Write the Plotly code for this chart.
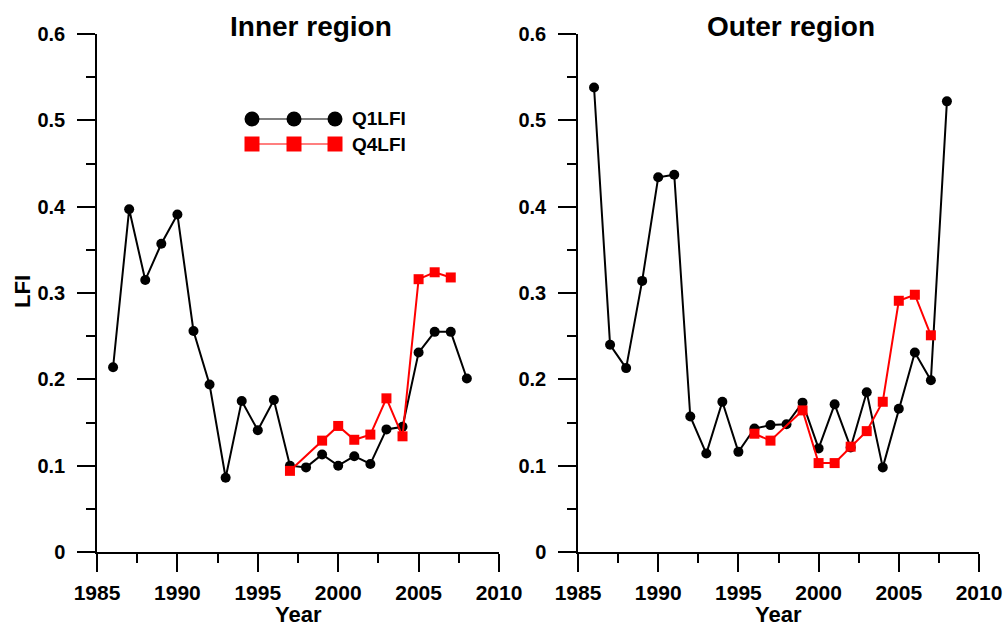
import plotly.graph_objects as go

# ---- data ----
years = list(range(1986, 2009))
inner_q1 = [0.214, 0.397, 0.315, 0.357, 0.391, 0.256, 0.194, 0.086, 0.175, 0.141, 0.176,
            0.100, 0.098, 0.113, 0.100, 0.111, 0.102, 0.142, 0.145, 0.231, 0.255, 0.255, 0.201]
inner_q4_years = [1997, 1999, 2000, 2001, 2002, 2003, 2004, 2005, 2006, 2007]
inner_q4 = [0.094, 0.129, 0.146, 0.130, 0.136, 0.178, 0.134, 0.316, 0.324, 0.318]

outer_q1 = [0.538, 0.240, 0.213, 0.314, 0.434, 0.437, 0.157, 0.114, 0.174, 0.116, 0.143,
            0.147, 0.148, 0.173, 0.120, 0.171, 0.121, 0.185, 0.098, 0.166, 0.231, 0.199, 0.522]
outer_q4_years = [1996, 1997, 1999, 2000, 2001, 2002, 2003, 2004, 2005, 2006, 2007]
outer_q4 = [0.137, 0.129, 0.164, 0.103, 0.103, 0.122, 0.140, 0.174, 0.291, 0.298, 0.251]

x_ticks = [1985, 1990, 1995, 2000, 2005, 2010]
y_ticks = [0, 0.1, 0.2, 0.3, 0.4, 0.5, 0.6]
y_ticklabels = ["0", "0.1", "0.2", "0.3", "0.4", "0.5", "0.6"]
panel_titles = ["Inner region", "Outer region"]
series_names = ["Q1LFI", "Q4LFI"]

W, H = 1005, 626
FONT = "Liberation Sans, Arial, sans-serif"

fig = go.Figure()

def add_series(x, y, axis, color, symbol):
    fig.add_trace(go.Scatter(
        x=x, y=y, mode="lines+markers", xaxis=axis[0], yaxis=axis[1],
        line=dict(color=color, width=2),
        marker=dict(color=color, size=10, symbol=symbol),
        showlegend=False, cliponaxis=False))

add_series(years, inner_q1, ("x", "y"), "black", "circle")
add_series(inner_q4_years, inner_q4, ("x", "y"), "red", "square")
add_series(years, outer_q1, ("x2", "y2"), "black", "circle")
add_series(outer_q4_years, outer_q4, ("x2", "y2"), "red", "square")

def px2x(p):
    return p / W

def px2y(p):
    return 1 - p / H

ydom = [px2y(552), px2y(34)]
xdoms = [[px2x(97), px2x(499)], [px2x(578), px2x(979)]]

xtickfont = dict(family=FONT, size=21, color="black", weight="bold")
ytickfont = dict(family=FONT, size=20, color="black", weight="bold")

def xaxis_cfg(dom):
    return dict(domain=dom, range=[1985, 2010], tickvals=x_ticks,
                showline=True, linecolor="black", linewidth=1.5,
                ticks="outside", ticklen=18, tickwidth=1.5, tickcolor="black",
                minor=dict(dtick=2.5, tick0=1985, ticks="outside", ticklen=9,
                           tickwidth=1.5, tickcolor="black"),
                showgrid=False, zeroline=False, tickfont=xtickfont,
                ticklabelstandoff=3, automargin=False)

def yaxis_cfg(anchor):
    return dict(domain=ydom, range=[0, 0.6], tickvals=y_ticks, ticktext=y_ticklabels,
                anchor=anchor,
                showline=True, linecolor="black", linewidth=1.5,
                ticks="outside", ticklen=18, tickwidth=1.5, tickcolor="black",
                minor=dict(dtick=0.05, tick0=0, ticks="outside", ticklen=9,
                           tickwidth=1.5, tickcolor="black"),
                showgrid=False, zeroline=False, tickfont=ytickfont,
                ticklabelstandoff=8, automargin=False)

fig.update_layout(
    width=W, height=H, margin=dict(l=0, r=0, t=0, b=0, autoexpand=False),
    paper_bgcolor="white", plot_bgcolor="white",
    xaxis=dict(xaxis_cfg(xdoms[0]), anchor="y"),
    yaxis=yaxis_cfg("x"),
    xaxis2=dict(xaxis_cfg(xdoms[1]), anchor="y2"),
    yaxis2=yaxis_cfg("x2"),
    showlegend=False,
)

annos = []
# panel titles
for cx, t in zip([311, 791], panel_titles):
    annos.append(dict(x=px2x(cx), y=px2y(27), xref="paper", yref="paper", text=t,
                      showarrow=False, xanchor="center", yanchor="middle",
                      font=dict(family=FONT, size=28, color="black", weight="bold")))
# axis titles
for cx in [298, 778]:
    annos.append(dict(x=px2x(cx), y=px2y(614), xref="paper", yref="paper", text="Year",
                      showarrow=False, xanchor="center", yanchor="middle",
                      font=dict(family=FONT, size=22, color="black", weight="bold")))
annos.append(dict(x=px2x(22), y=px2y(292), xref="paper", yref="paper", text="LFI",
                  showarrow=False, xanchor="center", yanchor="middle", textangle=-90,
                  font=dict(family=FONT, size=22, color="black", weight="bold")))

# legend (drawn manually to show three markers per sample)
shapes = []
leg_rows = [(119, "black", "circle", series_names[0]), (144, "red", "square", series_names[1])]
for ly, col, sym, name in leg_rows:
    shapes.append(dict(type="line", xref="paper", yref="paper",
                       x0=px2x(252), x1=px2x(335), y0=px2y(ly), y1=px2y(ly),
                       line=dict(color=col, width=1.2)))
    for mx in [252, 294, 335]:
        shapes.append(dict(type="circle" if sym == "circle" else "rect",
                           xref="paper", yref="paper",
                           xsizemode="pixel", ysizemode="pixel",
                           xanchor=px2x(mx), yanchor=px2y(ly),
                           x0=-7.5, x1=7.5, y0=-7.5, y1=7.5,
                           fillcolor=col, line=dict(color=col, width=0)))
    annos.append(dict(x=px2x(350), y=px2y(ly), xref="paper", yref="paper", text=name,
                      showarrow=False, xanchor="left", yanchor="middle",
                      font=dict(family=FONT, size=19, color="black", weight="bold")))

fig.update_layout(annotations=annos, shapes=shapes)

fig.write_html("out.html", config={"displayModeBar": False},
               post_script="document.body.style.margin='0px';"
                           "document.body.style.overflow='hidden';")
